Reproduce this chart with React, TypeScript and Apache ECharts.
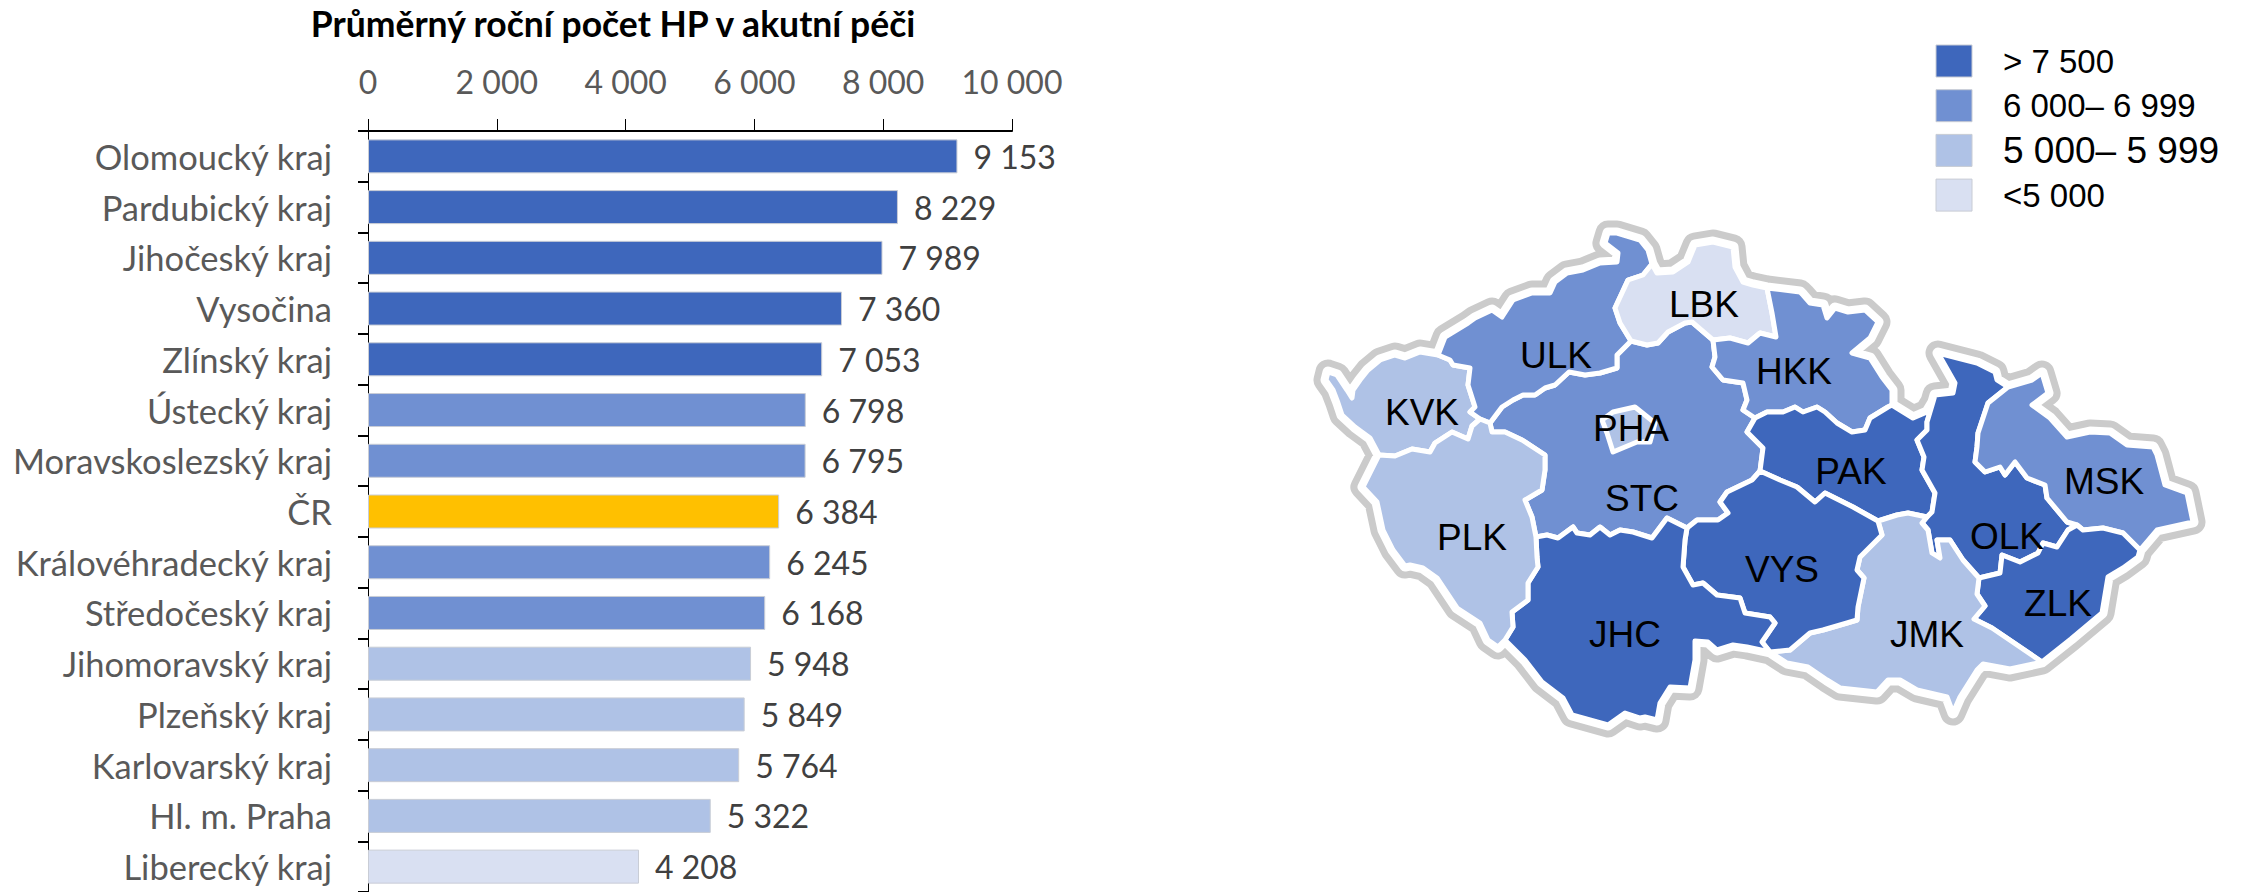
import React, { useEffect, useRef } from "react";
import * as echarts from "echarts";

type Pt = [number, number];

const categories = ["Olomoucký kraj", "Pardubický kraj", "Jihočeský kraj", "Vysočina", "Zlínský kraj", "Ústecký kraj", "Moravskoslezský kraj", "ČR", "Královéhradecký kraj", "Středočeský kraj", "Jihomoravský kraj", "Plzeňský kraj", "Karlovarský kraj", "Hl. m. Praha", "Liberecký kraj"];
const values = [9153, 8229, 7989, 7360, 7053, 6798, 6795, 6384, 6245, 6168, 5948, 5849, 5764, 5322, 4208];
const regionCodes = ["OLK", "PAK", "JHC", "VYS", "ZLK", "ULK", "MSK", "", "HKK", "STC", "JMK", "PLK", "KVK", "PHA", "LBK"];
const legendLabels = ["> 7 500", "6 000– 6 999", "5 000– 5 999", "<5 000"];
const legendFontSizes = [33, 33, 37, 33];
const classColors = ["#3E67BC", "#7090D2", "#AFC2E6", "#D9E0F2"];
const nationalColor = "#FFC000";

// Map geometry: traced base map of the regions, as shared arcs between junctions.
const A: Pt = [1438, 355], J0: Pt = [1379, 455], J1: Pt = [1480, 419], J2: Pt = [1490, 423], J3: Pt = [1631, 341], J4: Pt = [1652, 264], J5: Pt = [1767, 288], J6: Pt = [1713, 340], J7: Pt = [1755, 418], J8: Pt = [1933, 402], J9: Pt = [1892, 405], J10: Pt = [1927, 517], J11: Pt = [1878, 521], J12: Pt = [1760, 471], J13: Pt = [1687, 528], J14: Pt = [1536, 537], J15: Pt = [1505, 640], J16: Pt = [1770, 652], J17: Pt = [2042, 662], J18: Pt = [1979, 578], J19: Pt = [2140, 550], J20: Pt = [2008, 387], J21: Pt = [2077, 525];

const oULK: Pt[] = [A, [1445, 337], [1468, 323], [1475, 318], [1492, 310], [1502, 317], [1513, 300], [1532, 293], [1550, 293], [1555, 282], [1567, 273], [1583, 270], [1600, 263], [1617, 262], [1618, 253], [1605, 243], [1608, 233], [1617, 233], [1640, 240], [1648, 250], J4];
const oLBK: Pt[] = [J4, [1657, 273], [1673, 272], [1688, 262], [1695, 245], [1713, 242], [1733, 247], [1735, 267], [1743, 282], [1753, 285], J5];
const oHKK: Pt[] = [J5, [1800, 292], [1803, 295], [1810, 303], [1823, 305], [1827, 318], [1835, 308], [1848, 312], [1865, 310], [1878, 322], [1870, 338], [1852, 353], [1870, 358], [1882, 377], [1892, 390], J9];
const oPAK: Pt[] = [J9, [1913, 418], [1927, 412], J8];
const oOLK: Pt[] = [J8, [1935, 395], [1953, 393], [1955, 383], [1938, 353], [1977, 363], [1995, 372], [1997, 380], J20];
const oMSK: Pt[] = [J20, [2032, 380], [2042, 373], [2048, 393], [2032, 405], [2050, 418], [2067, 437], [2090, 432], [2110, 433], [2127, 445], [2153, 447], [2157, 455], [2165, 485], [2187, 493], [2193, 522], [2157, 530], J19];
const oZLK: Pt[] = [J19, [2138, 557], [2123, 568], [2108, 577], [2102, 613], [2071, 639], J17];
const oJMK: Pt[] = [J17, [2010, 669], [1983, 664], [1977, 670], [1960, 697], [1953, 713], [1947, 697], [1917, 690], [1900, 680], [1888, 680], [1877, 692], [1840, 688], [1827, 680], [1808, 667], [1787, 663], J16];
const oJHC: Pt[] = [J16, [1747, 647], [1733, 645], [1717, 650], [1708, 642], [1695, 641], [1695, 660], [1690, 688], [1670, 687], [1660, 703], [1657, 720], [1645, 717], [1640, 718], [1625, 713], [1608, 725], [1590, 720], [1572, 715], [1563, 698], [1542, 682], [1525, 660], [1507, 642], J15];
const oPLK: Pt[] = [J15, [1498, 647], [1488, 640], [1480, 623], [1457, 608], [1437, 578], [1423, 568], [1410, 565], [1405, 566], [1393, 550], [1383, 530], [1377, 502], [1363, 487], J0];
const oKVK: Pt[] = [J0, [1370, 438], [1355, 427], [1342, 415], [1338, 403], [1333, 390], [1326, 380], [1328, 372], [1337, 375], [1347, 390], [1352, 398], [1353, 390], [1360, 380], [1368, 370], [1380, 360], [1395, 355], [1405, 358], [1420, 352], A];

const bKU: Pt[] = [J1, [1470, 412], [1475, 407], [1468, 385], [1470, 368], [1453, 365], [1450, 360], A];
const bKP: Pt[] = [J0, [1395, 456], [1412, 449], [1430, 452], [1435, 443], [1452, 432], [1468, 439], [1472, 426], J1];
const bUP: Pt[] = [J1, J2];
const bUS: Pt[] = [J2, [1502, 407], [1513, 400], [1523, 395], [1535, 395], [1545, 388], [1555, 385], [1569, 372], [1585, 375], [1600, 373], [1617, 368], [1617, 355], J3];
const bUL: Pt[] = [J4, [1643, 275], [1628, 280], [1615, 308], [1620, 323], J3];
const bLH: Pt[] = [J5, [1772, 313], [1776, 337], [1760, 333], [1748, 343], [1730, 338], J6];
const bLS: Pt[] = [J6, [1692, 322], [1685, 323], [1668, 332], [1658, 343], [1647, 345], J3];
const bSH: Pt[] = [J6, [1715, 357], [1712, 367], [1723, 380], [1743, 383], [1747, 400], [1743, 410], J7];
const bHP: Pt[] = [J7, [1767, 412], [1783, 412], [1795, 407], [1803, 412], [1817, 407], [1825, 412], [1837, 423], [1852, 432], [1865, 430], [1870, 418], [1888, 407], J9];
const bPO: Pt[] = [J8, [1927, 422], [1927, 430], [1917, 440], [1924, 457], [1922, 470], [1935, 493], [1932, 512], J10];
const bPJ: Pt[] = [J10, [1908, 513], [1897, 515], J11];
const bPS: Pt[] = [J7, [1747, 432], [1763, 448], J12];
const bPV: Pt[] = [J12, [1780, 480], [1797, 487], [1815, 502], [1825, 493], [1853, 507], J11];
const bSV: Pt[] = [J12, [1752, 480], [1727, 492], [1720, 502], [1728, 513], [1718, 520], [1697, 520], J13];
const bSJ: Pt[] = [J13, [1667, 518], [1652, 538], [1633, 532], [1620, 530], [1610, 535], [1600, 527], [1590, 535], [1577, 533], [1573, 527], [1558, 538], [1547, 535], J14];
const bSP: Pt[] = [J2, [1492, 432], [1505, 432], [1522, 440], [1545, 455], [1545, 470], [1542, 490], [1525, 500], [1532, 517], J14];
const bPH: Pt[] = [J14, [1537, 557], [1538, 567], [1528, 583], [1528, 600], [1512, 612], [1513, 627], J15];
const bJV: Pt[] = [J13, [1685, 540], [1683, 567], [1693, 585], [1703, 583], [1717, 595], [1740, 598], [1745, 613], [1770, 617], [1775, 623], [1762, 642], J16];
const bVJ: Pt[] = [J11, [1882, 535], [1860, 557], [1857, 570], [1864, 578], [1858, 607], [1857, 620], [1847, 623], [1823, 630], [1810, 633], [1790, 650], J16];
const bJZ: Pt[] = [J17, [1992, 628], [1974, 619], [1985, 606], [1977, 594], J18];
const bOJ: Pt[] = [J10, [1922, 523], [1928, 530], [1932, 553], [1940, 558], [1937, 540], [1950, 540], [1963, 560], J18];
const bOZ: Pt[] = [J21, [2068, 530], [2057, 547], [2043, 543], [2038, 553], [2020, 562], [2002, 555], [2000, 573], J18];
const bOM: Pt[] = [J20, [1988, 403], [1978, 433], [1977, 447], [1975, 462], [1985, 472], [2000, 467], [2005, 475], [2015, 462], [2027, 478], [2045, 485], [2047, 498], [2067, 522], J21];
const bZM: Pt[] = [J21, [2083, 530], [2103, 528], [2123, 533], J19];
const ringPHA: Pt[] = [[1613, 412], [1635, 407], [1655, 423], [1650, 442], [1637, 442], [1613, 452], [1607, 433], [1602, 420]];

const rev = (a: Pt[]) => [...a].reverse();
const regionRings: Record<string, Pt[][]> = {
  STC: [bUS, rev(bLS), bSH, bPS, bSV, bSJ, rev(bSP)],
  PHA: [ringPHA],
  KVK: [oKVK, rev(bKU), rev(bKP)],
  ULK: [oULK, bUL, rev(bUS), rev(bUP), bKU],
  LBK: [oLBK, bLH, bLS, rev(bUL)],
  HKK: [oHKK, rev(bHP), rev(bSH), rev(bLH)],
  PAK: [oPAK, bPO, bPJ, rev(bPV), rev(bPS), bHP],
  OLK: [oOLK, bOM, bOZ, rev(bOJ), rev(bPO)],
  MSK: [oMSK, rev(bZM), rev(bOM)],
  ZLK: [oZLK, bJZ, rev(bOZ), bZM],
  JMK: [oJMK, rev(bVJ), rev(bPJ), bOJ, rev(bJZ)],
  VYS: [bPV, bVJ, rev(bJV), rev(bSV)],
  JHC: [oJHC, rev(bPH), rev(bSJ), bJV],
  PLK: [oPLK, bKP, bUP, bSP, bPH],
};
const labelAnchors: Record<string, Pt> = { LBK: [1704, 304], ULK: [1556, 355], HKK: [1794, 371], KVK: [1422, 412], PHA: [1631, 428], PAK: [1851, 471], STC: [1642, 498], MSK: [2104, 481], PLK: [1472, 537], OLK: [2007, 536], VYS: [1782, 569], ZLK: [2058, 603], JHC: [1625, 634], JMK: [1927, 634] };
const outerRing = [oULK, oLBK, oHKK, oPAK, oOLK, oMSK, oZLK, oJMK, oJHC, oPLK, oKVK].flat();

const feature = (name: string, ring: Pt[], cp?: Pt) => ({
  type: "Feature",
  properties: cp ? { name, cp } : { name },
  geometry: { type: "Polygon", coordinates: [ring] },
});
const collection = (features: any[]) => ({ type: "FeatureCollection", features });

const classOf = (v: number) => (v > 7000 ? 0 : v >= 6000 ? 1 : v >= 5000 ? 2 : 3);
const colorOf = (v: number) => classColors[classOf(v)];
const spaced = (v: number) => String(v).replace(/\B(?=(\d{3})+$)/g, " ");

const xs = outerRing.map((p) => p[0]);
const ys = outerRing.map((p) => p[1]);
const mapBox = { left: Math.min(...xs), top: Math.min(...ys), width: Math.max(...xs) - Math.min(...xs), height: Math.max(...ys) - Math.min(...ys) };

const identity = { project: (p: number[]) => p, unproject: (p: number[]) => p };
const FONT = "Lato";
const ARIAL = "Liberation Sans";

export default function App() {
  const ref = useRef<HTMLDivElement>(null);
  useEffect(() => {
    echarts.registerMap("czRegions", collection(Object.keys(regionRings).map((k) => feature(k, regionRings[k].flat(), labelAnchors[k]))) as any);
    echarts.registerMap("czHaloGray", collection([feature("CZ", outerRing)]) as any);
    echarts.registerMap("czHaloWhite", collection([feature("CZ", outerRing)]) as any);
    const chart = echarts.init(ref.current!, undefined, { renderer: "svg" });
    const mapBase = { type: "map" as const, ...mapBox, projection: identity, roam: false, silent: true, selectedMode: false as const, emphasis: { disabled: true } };
    chart.setOption({
      animation: false,
      backgroundColor: "#fff",
      title: {
        text: "Průměrný roční počet HP v akutní péči",
        left: 608, top: 0, textAlign: "center",
        textStyle: { fontFamily: FONT, fontSize: 35.5, fontWeight: "bold", color: "#000" },
      },
      grid: { left: 368, top: 131, width: 644, height: 762, containLabel: false },
      xAxis: {
        type: "value", position: "top", min: 0, max: 10000, interval: 2000,
        splitLine: { show: false },
        axisLine: { show: true, lineStyle: { color: "#000", width: 2 } },
        axisTick: { show: true, length: 12, lineStyle: { color: "#000", width: 1 } },
        axisLabel: { margin: 34, color: "#595959", fontFamily: FONT, fontSize: 32, formatter: (v: number) => spaced(v) },
      },
      yAxis: {
        type: "category", inverse: true, data: categories,
        axisLine: { show: true, lineStyle: { color: "#000", width: 1 } },
        axisTick: { show: true, length: 10, lineStyle: { color: "#000", width: 2 } },
        axisLabel: { margin: 36, color: "#595959", fontFamily: FONT, fontSize: 34.5 },
      },
      series: [
        {
          type: "bar", barWidth: 34,
          data: values.map((v, i) => ({
            value: v,
            itemStyle: { color: regionCodes[i] ? colorOf(v) : nationalColor, borderColor: "#C9CDD6", borderWidth: 1 },
          })),
          label: { show: true, position: "right", distance: 16, color: "#404040", fontFamily: FONT, fontSize: 32, formatter: (p: any) => spaced(p.value) },
          silent: true,
        },
        { ...mapBase, map: "czHaloGray", z: 2, data: [], label: { show: false }, itemStyle: { areaColor: "#fff", borderColor: "#CBCBCB", borderWidth: 25, borderJoin: "round" } },
        { ...mapBase, map: "czHaloWhite", z: 3, data: [], label: { show: false }, itemStyle: { areaColor: "#fff", borderColor: "#fff", borderWidth: 11, borderJoin: "round" } },
        {
          ...mapBase, map: "czRegions", z: 4,
          data: regionCodes.map((c, i) => (c ? { name: c, value: values[i], itemStyle: { areaColor: colorOf(values[i]) } } : null)).filter(Boolean),
          label: { show: true, color: "#000", fontFamily: ARIAL, fontSize: 37 },
          itemStyle: { borderColor: "#fff", borderWidth: 5, borderJoin: "round" },
        },
      ],
      graphic: legendLabels.flatMap((t, i) => [
        { type: "rect", x: 1936, y: 45 + i * 44.7, shape: { width: 36, height: 32 }, style: { fill: classColors[i], stroke: "#C8CCD4", lineWidth: 1 } },
        { type: "text", x: 2003, y: 61 + i * 44.7, style: { text: t, fill: "#000", font: `${legendFontSizes[i]}px "${ARIAL}"`, textVerticalAlign: "middle" } },
      ]),
    });
    return () => chart.dispose();
  }, []);
  return <div ref={ref} style={{ position: "absolute", left: 0, top: 0, width: 2244, height: 892 }} />;
}
